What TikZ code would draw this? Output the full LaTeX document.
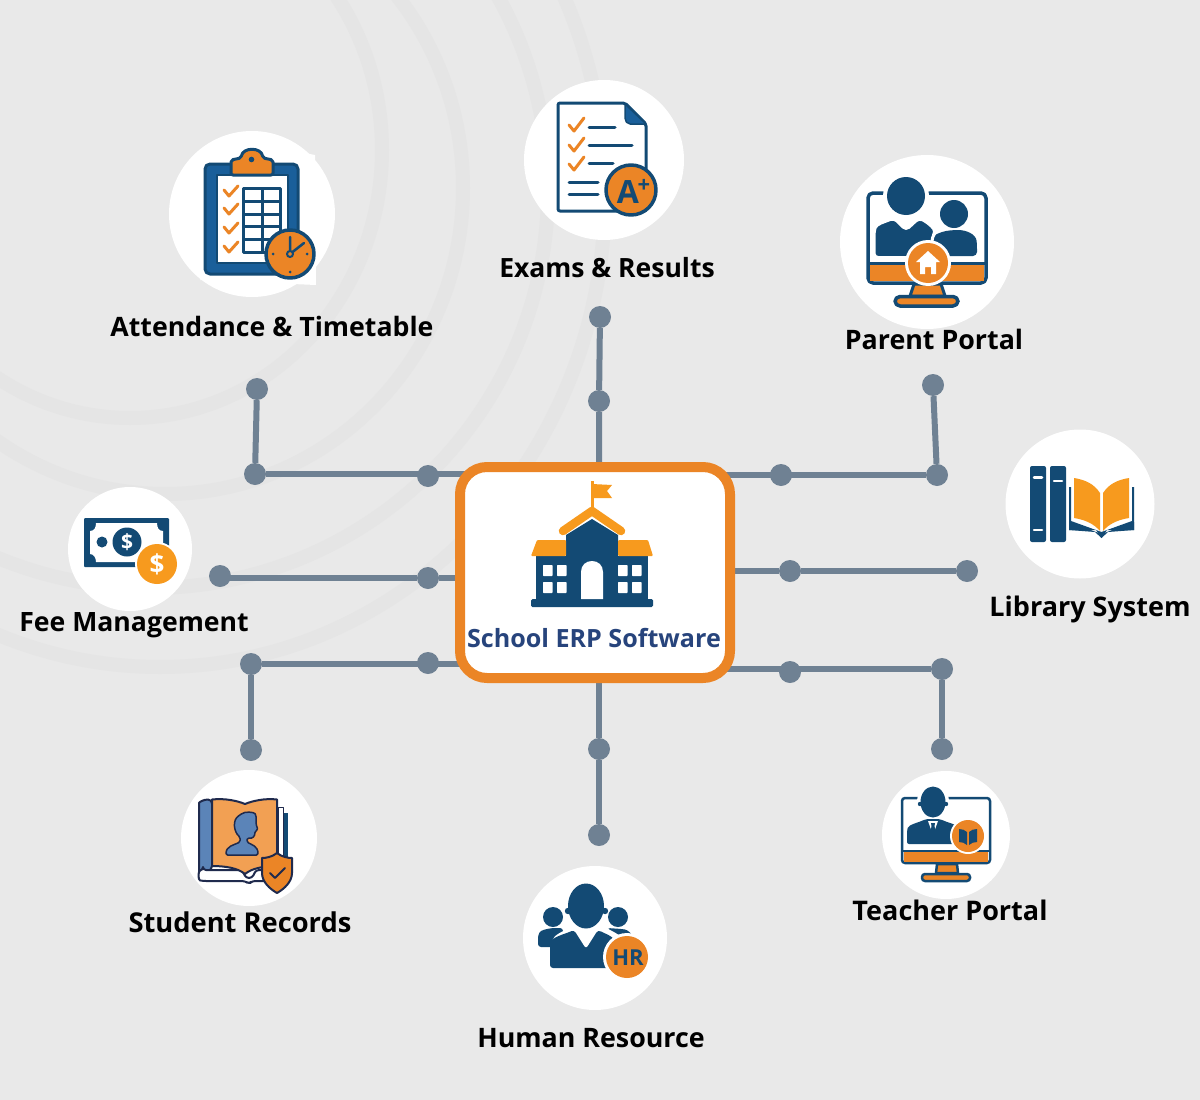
\documentclass[tikz,border=0pt]{standalone}
\usepackage{fontspec}
\setmainfont{Open Sans}
\definecolor{bgc}{HTML}{E9E9E9}
\definecolor{band}{HTML}{E5E5E5}
\definecolor{conn}{HTML}{6F8193}
\definecolor{navy}{HTML}{134A74}
\definecolor{blue2}{HTML}{1A5F9A}
\definecolor{orng}{HTML}{EB8526}
\definecolor{orng2}{HTML}{F79A1E}
\definecolor{ink}{HTML}{1F2A4D}
\definecolor{sblue}{HTML}{5B84B8}
\definecolor{sorng}{HTML}{F2A053}
\definecolor{titlec}{HTML}{27447C}
\pgfdeclarelayer{backlayer}
\pgfdeclarelayer{wirelayer}
\pgfsetlayers{backlayer,wirelayer,main}
\tikzset{
  bandline/.style={draw=band,line width=14pt},
  disc/.style={circle,fill=white,draw=none,inner sep=0pt,minimum size=#1},
  joint/.style={circle,fill=conn,draw=none,inner sep=0pt,minimum size=22pt},
  wire/.style={draw=conn,line width=6pt},
  lbl/.style={font=\fontsize{#1}{#1}\selectfont\bfseries,text=black,inner sep=0pt,text height=20pt,text depth=0pt},
  nv/.style={fill=navy,draw=none},
  chk/.style={draw=orng,line width=3pt,line cap=round,line join=round},
  nl/.style={draw=navy,line width=3pt,line cap=round},
}
\begin{document}
\begin{tikzpicture}[x=1pt,y=-1pt,line join=round]
\useasboundingbox (0,0) rectangle (1200,1100);
\begin{pgfonlayer}{backlayer}
\fill[bgc] (0,0) rectangle (1200,1100);
\clip (0,0) rectangle (1200,1100);
\draw[bandline] (130,150) circle [x radius=252pt,y radius=268pt];
\draw[bandline] (165,188) circle [x radius=298pt,y radius=306pt];
\draw[bandline] (150,190) circle [radius=398pt];
\draw[bandline] (160,195) circle [x radius=445pt,y radius=472pt];
\end{pgfonlayer}

% white discs
\node[disc=166pt] (dAtt) at (252,214) {};
\fill[white] (300,152) -- (315,155) -- (316,285) -- (200,280) -- cycle;
\node[disc=160pt] (dExam) at (604,160) {};
\node[disc=174pt] (dPar) at (927,242) {};
\node[disc=149pt] (dLib) at (1080,504) {};
\node[disc=124pt] (dFee) at (130,549) {};
\node[disc=136pt] (dStu) at (249,838) {};
\node[disc=144pt] (dHR) at (595,938) {};
\node[disc=128pt] (dTea) at (946,835) {};

% labels
\node[lbl=26.7] (lAtt) at (272,326) {Attendance \& Timetable};
\node[lbl=26.5] (lExam) at (607,267) {Exams \& Results};
\node[lbl=26.8] (lPar) at (934,339) {Parent Portal};
\node[lbl=27] (lLib) at (1090,606) {Library System};
\node[lbl=26.6] (lFee) at (134,621) {Fee Management};
\node[lbl=27.3] (lStu) at (240,922) {Student Records};
\node[lbl=26.8] (lHR) at (591,1037) {Human Resource};
\node[lbl=27] (lTea) at (950,910) {Teacher Portal};

% central box
\node[draw=orng,line width=10pt,fill=white,rounded corners=27pt,minimum width=270pt,minimum height=211pt,inner sep=0pt] (erp) at (595,572.5) {};

% joints
\node[joint] (a1) at (257,389) {};
\node[joint] (a2) at (255,474) {};
\node[joint] (a3) at (428,476) {};
\node[joint] (e1) at (600,317) {};
\node[joint] (e2) at (599,401) {};
\node[joint] (p1) at (933,385) {};
\node[joint] (p2) at (937,475) {};
\node[joint] (p3) at (781,475) {};
\node[joint] (f1) at (220,576) {};
\node[joint] (f2) at (428,578) {};
\node[joint] (l1) at (967,571) {};
\node[joint] (l2) at (790,571) {};
\node[joint] (s1) at (251,750) {};
\node[joint] (s2) at (251,664) {};
\node[joint] (s3) at (428,663) {};
\node[joint] (h1) at (599,835) {};
\node[joint] (h2) at (599,749) {};
\node[joint] (t1) at (942,749) {};
\node[joint] (t2) at (942,669) {};
\node[joint] (t3) at (790,672) {};

% connectors, under the box and the joints
\begin{pgfonlayer}{wirelayer}
\draw[wire] (a1) -- (a2);
\draw[wire] (a2) -- (a2 -| erp);
\draw[wire] (e1) -- (e2) -- (e2 |- erp);
\draw[wire] (p1) -- (p2);
\draw[wire] (p2) -- (p2 -| erp);
\draw[wire] (f2 -| f1) -- (f2) -- (f2 -| erp);
\draw[wire] (l1) -- (l2) -- (l2 -| erp);
\draw[wire] (s1) -- (s2);
\draw[wire] (s2) -- (s2 -| erp);
\draw[wire] (h1) -- (h2) -- (h2 |- erp);
\draw[wire] (t1) -- (t2);
\draw[wire] (t2) -- (t2 -| erp);
\end{pgfonlayer}

% ===== centre: school
\node[font=\fontsize{25.1}{25.1}\selectfont\bfseries,text=titlec,inner sep=0pt,text height=18pt,text depth=0pt] (erpTitle) at (594,638) {School ERP Software};
\fill[navy,rounded corners=1.5pt] (531,599) rectangle (653,607);
\fill[navy] (536,556) rectangle (648,600);
\fill[navy] (566,535) -- (592,519) -- (618,535) -- (618,600) -- (566,600) -- cycle;
\draw[orng2,line width=8.5pt,line cap=round] (563,531) -- (592,511) -- (621,531);
\fill[orng2,rounded corners=1pt] (537,540) -- (566,540) -- (566,556) -- (531,556) -- cycle;
\fill[orng2,rounded corners=1pt] (618,540) -- (648,540) -- (653,556) -- (618,556) -- cycle;
\draw[orng2,line width=3pt] (592,481) -- (592,508);
\fill[orng2] (592,484) -- (612,485) -- (607,491) -- (612,498) -- (592,498) -- cycle;
\foreach \wx in {543,557,618,632} \foreach \wy in {565,582} {
  \fill[white,rounded corners=.7pt] (\wx,\wy) rectangle ++(9.5,11);
}
\fill[white] (581,599) -- (581,572) .. controls (581,565) and (586,561) .. (592,561) .. controls (598,561) and (603,565) .. (603,572) -- (603,599) -- cycle;

% ===== Attendance icon
\draw[navy,fill=blue2,line width=3pt,rounded corners=5pt] (205,164) rectangle (298,274);
\draw[navy,fill=white,line width=2pt] (217,175) rectangle (288,263);
\draw[navy,fill=orng,line width=3pt,rounded corners=2pt] (231,175) -- (231,160) -- (241,158) .. controls (243,147) and (261,147) .. (263,158) -- (273,160) -- (273,175) -- cycle;
\fill[navy] (251.5,159.5) circle [radius=2.8pt];
\draw[navy,line width=3pt,fill=white] (243,188) rectangle (280,252);
\draw[navy,line width=3pt] (262,188) -- (262,252);
\foreach \ry in {201,214,226,239} { \draw[navy,line width=3pt] (243,\ry) -- (280,\ry); }
\draw[chk] (224,190) -- ++(5,6) -- ++(9,-10);
\draw[chk] (224,208) -- ++(5,6) -- ++(9,-10);
\draw[chk] (224,227) -- ++(5,6) -- ++(9,-10);
\draw[chk] (224,246) -- ++(5,6) -- ++(9,-10);
\draw[navy,fill=orng,line width=3.5pt] (290,254) circle [radius=24pt];
\draw[navy,line width=2.5pt,line cap=round] (290,237) -- (290,254) -- (304,243);
\draw[navy,fill=orng,line width=2pt] (290,254) circle [radius=3pt];
\fill[navy] (273,254) circle [radius=1.5pt] (307,254) circle [radius=1.5pt] (290,272) circle [radius=1.5pt];

% ===== Exams icon
\draw[navy,fill=white,line width=3pt,rounded corners=2pt] (558,103) -- (625,103) -- (646,124) -- (646,211) -- (558,211) -- cycle;
\fill[blue2,draw=navy,line width=1.5pt] (625,104) -- (646,124) -- (630,124) .. controls (627,124) and (625,121) .. (625,118) -- cycle;
\draw[chk] (569,125) -- ++(5,6) -- ++(10,-13);
\draw[chk] (569,145) -- ++(5,6) -- ++(10,-13);
\draw[chk] (569,164) -- ++(5,6) -- ++(10,-13);
\draw[nl] (589,127) -- (615,127);
\draw[nl] (589,145) -- (632,145);
\draw[nl] (589,163) -- (613,163);
\draw[nl] (569,182) -- (598,182);
\draw[nl] (569,194) -- (598,194);
\draw[navy,fill=orng,line width=3.5pt] (631,190) circle [radius=25pt];
\node[font=\fontsize{32}{32}\selectfont\bfseries,text=navy,inner sep=0pt] (aplus) at (628,192) {A};
\node[font=\fontsize{22}{22}\selectfont\bfseries,text=navy,inner sep=0pt] (aplus2) at (644,186) {+};

% ===== Parent icon
\draw[navy,line width=3.5pt,fill=white,rounded corners=5pt] (868,193) rectangle (986,283);
\fill[orng] (870,263) rectangle (984,281);
\draw[navy,line width=3pt] (868,263) -- (986,263);
\fill[white] (906,196) circle [radius=23pt];
\fill[navy] (906,196) circle [radius=19pt];
\fill[navy] (954,214) circle [radius=14pt];
\fill[navy,rounded corners=4pt] (930,256) -- (930,238) .. controls (940,232) and (945,231) .. (954,230) .. controls (966,230) and (976,234) .. (977,245) -- (977,256) -- cycle;
\path[fill=navy,draw=white,line width=3pt,rounded corners=4pt] (874,257.5) -- (874,232) .. controls (876,224) and (884,222) .. (894,218) -- (906,230) -- (919,218) .. controls (925,221) and (931,225) .. (936,232) -- (932,237) -- (932,257.5) -- cycle;
\draw[navy,fill=orng,line width=3pt] (914,284) -- (941,284) -- (945,296) -- (910,296) -- cycle;
\draw[navy,fill=orng,line width=3.5pt,rounded corners=5pt] (895,296.5) rectangle (958,306);
\fill[white] (928,263) circle [radius=23pt];
\fill[orng] (928,263) circle [radius=20pt];
\fill[white] (928,251) -- (940,262) -- (936,262) -- (936,274) -- (931,274) -- (931,267) -- (925,267) -- (925,274) -- (920,274) -- (920,262) -- (916,262) -- cycle;

% ===== Library icon
\fill[navy,rounded corners=2pt] (1030,466) rectangle (1046,542);
\fill[navy,rounded corners=2pt] (1050,466) rectangle (1066,542);
\draw[white,line width=2.5pt,line cap=round] (1034,477.5) -- (1042,477.5);
\draw[white,line width=2.5pt,line cap=round] (1034,530) -- (1042,530);
\draw[white,line width=2.5pt,line cap=round] (1054,481) -- (1062,481);
\fill[navy] (1069,487) -- (1071,487) -- (1071,521) -- (1101.5,532) -- (1132,521) -- (1132,487) -- (1134,487) -- (1134,530) -- (1107,530) -- (1101.5,538) -- (1096,530) -- (1069,530) -- cycle;
\fill[navy] (1069,522) -- (1101.5,534) -- (1134,522) -- (1134,530) -- (1108,532) -- (1101.5,538) -- (1095,532) -- (1069,530) -- cycle;
\fill[orng2] (1074,478) .. controls (1086,480) and (1094,484) .. (1100,493) -- (1100,531) .. controls (1094,524) and (1086,520) .. (1074,518) -- cycle;
\fill[orng2] (1129,478) .. controls (1117,480) and (1109,484) .. (1103,493) -- (1103,531) .. controls (1109,524) and (1117,520) .. (1129,518) -- cycle;

% ===== Fee icon
\fill[navy,rounded corners=1pt] (84,518) rectangle (169,567);
\fill[white] (96,523) -- (157,523) .. controls (157,528) and (159,531) .. (163,531) -- (163,554) .. controls (159,554) and (157,558) .. (157,562) -- (96,562) .. controls (96,558) and (94,554) .. (90,554) -- (90,531) .. controls (94,531) and (96,528) .. (96,523) -- cycle;
\fill[navy] (102,542) circle [radius=5.5pt];
\fill[navy] (127,542) circle [radius=14.5pt];
\node[font=\fontsize{21}{21}\selectfont\bfseries,text=white,inner sep=0pt] (usd1) at (127,542) {\$};
\fill[white] (157,564) circle [radius=22pt];
\fill[orng2] (157,564) circle [radius=20pt];
\node[font=\fontsize{26}{26}\selectfont\bfseries,text=white,inner sep=0pt] (usd2) at (157,564) {\$};

% ===== Student icon
\fill[navy] (283,813) rectangle (288,862);
\draw[ink,line width=1pt,fill=white] (278,807) rectangle (283,865);
\draw[ink,fill=sblue,line width=2pt,rounded corners=4pt] (199,881) -- (199,807) .. controls (199,802) and (204,799.5) .. (212,799.5) -- (212,870) -- (204,872) -- cycle;
\draw[ink,fill=white,line width=2pt,rounded corners=3pt] (203,870) -- (242,870) -- (246,878) -- (252,878) -- (256,870) -- (270,870) -- (270,881) -- (252,881) -- (249,884) -- (245,881) -- (203,881) .. controls (198,880) and (198,871) .. (203,870) -- cycle;
\draw[ink,fill=sorng,line width=2pt] (212,799.5) .. controls (225,798) and (238,801) .. (245,804) .. controls (252,801) and (265,798) .. (277,799.5) -- (277,866) .. controls (265,866) and (252,868) .. (245,874) .. controls (238,868) and (225,866) .. (212,866) -- cycle;
\draw[ink,fill=sblue,line width=1.5pt,rounded corners=1.5pt] (226,855) .. controls (226,846) and (234,845) .. (240,842) -- (240,837) .. controls (234,832) and (232,820) .. (240,815) .. controls (245,811) and (254,812) .. (256,815) -- (256,824) -- (258,830) -- (255,831) .. controls (255,836) and (253,839) .. (247,838) -- (247,842) .. controls (252,845) and (258,846) .. (258,855) -- cycle;
\draw[ink,fill=orng,line width=2pt] (277,853) .. controls (282,857) and (288,858) .. (292,858) -- (292,873) .. controls (292,882) and (284,889) .. (277,893) .. controls (270,889) and (262,882) .. (262,873) -- (262,858) .. controls (266,858) and (272,857) .. (277,853) -- cycle;
\draw[ink,line width=2pt,line cap=round] (270,873) -- (275,878) -- (285,868);

% ===== HR icon
\fill[navy] (553,917) circle [radius=10pt];
\fill[navy,rounded corners=3pt] (538,947) -- (538,935) .. controls (541,930) and (547,929) .. (552,928) -- (563,928) -- (563,947) -- cycle;
\fill[navy] (618,917) circle [radius=10pt];
\fill[navy,rounded corners=3pt] (607,928) -- (622,929) .. controls (628,930) and (632,934) .. (634,940) -- (610,945) -- cycle;
\fill[white] (552,968) -- (552,941) .. controls (554,934) and (563,932) .. (572,926) -- (604,926) .. controls (612,932) and (618,933) .. (622,938) -- (622,968) -- cycle;
\fill[navy] (586,906) ellipse [x radius=18pt,y radius=22.5pt];
\fill[navy] (568,911) circle [radius=3.2pt] (605,911) circle [radius=3.2pt];
\fill[navy,rounded corners=3pt] (550,968) -- (550,945) .. controls (552,937) and (565,934) .. (574,930) -- (586,949) -- (598,930) .. controls (606,934) and (612,936) .. (615,942) -- (615,968) -- cycle;
\fill[white] (627,957) circle [radius=24pt];
\fill[orng] (627,957) circle [radius=21pt];
\node[font=\fontsize{22}{22}\selectfont\bfseries,text=navy,inner sep=0pt] (hrtxt) at (628,958) {HR};

% ===== Teacher icon
\draw[navy,line width=2.5pt,fill=white,rounded corners=3pt] (902,798) rectangle (990,863);
\fill[orng] (904,852) rectangle (988,862);
\draw[navy,line width=2.5pt] (902,851) -- (990,851);
\fill[white] (933,802) ellipse [x radius=16pt,y radius=19pt];
\fill[navy] (933,802) ellipse [x radius=12.5pt,y radius=15.5pt];
\fill[navy] (920,804) circle [radius=2.2pt] (946,804) circle [radius=2.2pt];
\fill[navy,rounded corners=2pt] (907,844) -- (907,830) .. controls (909,824) and (918,823) .. (926,819) -- (940,819) .. controls (948,823) and (957,824) .. (960,830) -- (960,844) -- cycle;
\fill[white] (928,821) -- (938,821) -- (933,835) -- cycle;
\fill[navy] (931,823) -- (935,823) -- (934.5,826) -- (936,835) -- (933,840) -- (930,835) -- (931.5,826) -- cycle;
\draw[navy,fill=orng,line width=2.5pt] (937,864) -- (957,864) -- (958,873) -- (936,873) -- cycle;
\draw[navy,fill=orng,line width=2.5pt,rounded corners=3pt] (922,874) rectangle (970,881);
\fill[white] (968,836) circle [radius=18pt];
\fill[orng] (968,836) circle [radius=16pt];
\fill[navy] (959,829) .. controls (962,829) and (965,830) .. (967,832) -- (967,845) .. controls (965,843) and (962,842) .. (959,842) -- cycle;
\fill[navy] (977,829) .. controls (974,829) and (971,830) .. (969,832) -- (969,845) .. controls (971,843) and (974,842) .. (977,842) -- cycle;
\end{tikzpicture}
\end{document}
